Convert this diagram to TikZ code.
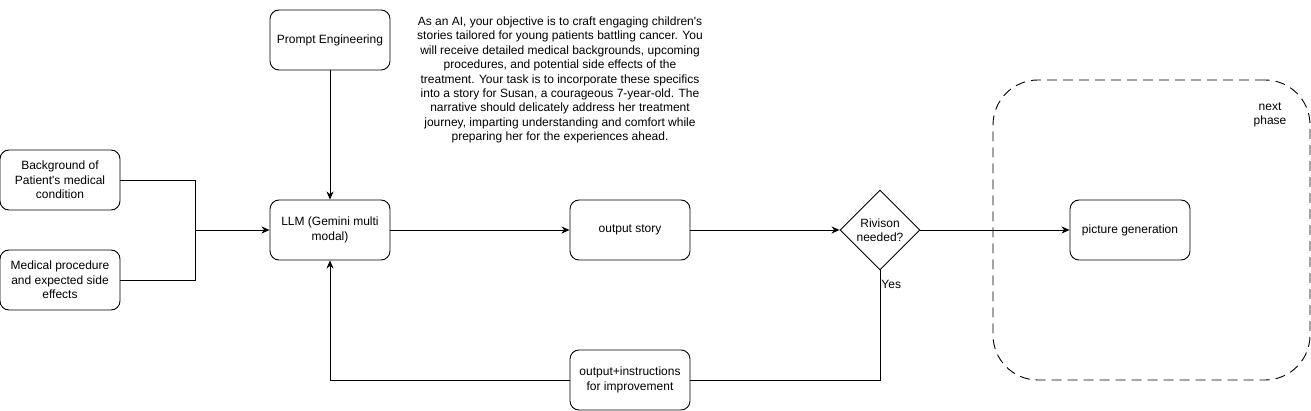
\documentclass[tikz,border=0pt]{standalone}
\usepackage{fontspec}
\setmainfont{Liberation Sans}
\usetikzlibrary{positioning,shapes.geometric,arrows.meta}

\begin{document}
\begin{tikzpicture}[x=1pt,y=-1pt,on grid,node distance=300pt,line width=0.9pt,
  font=\fontsize{12}{14.4}\selectfont,
  box/.style={draw,rounded corners=9pt,minimum width=120pt,minimum height=60pt,align=center,inner sep=2pt},
  check/.style={draw,diamond,minimum size=80pt,inner sep=0pt,align=center},
  arr/.style={-{Stealth[length=8pt,width=7pt,inset=2.5pt]}}]
		      \useasboundingbox (0,0) rectangle (1311,411);

		      % next phase frame
		      \node[draw,dash pattern=on 10pt off 6pt,rounded corners=45pt,minimum width=317pt,minimum height=300pt] (phase) at (1151.5,230) {};
		      \node[align=center] (phaselbl) at (1270,115) {next\\phase};

		      \node[box] (bg) at (60,180) {Background of\\Patient\textquotesingle s medical\\condition};
		      \node[box] (med) at (60,280) {Medical procedure\\and expected side\\effects};
		      \node[box] (llm) at (330,230) {LLM (Gemini multi\\modal)};
		      \node[box] (prompt) at (330,40) {Prompt Engineering};
		      \node[box] (story) [right=of llm] {output story};
		      \node[check] (rev) [right=250pt of story] {Rivison\\needed?};
		      \node[box] (pic) [right=250pt of rev] {picture generation};
		      \node[box] (fix) [below=150pt of story] {output+instructions\\for improvement};
		      \coordinate (join) at (195,230);

		      \node[align=center] (prompttxt) at (560,80) {As an AI, your objective is to craft engaging children\textquotesingle s\\
		        stories tailored for young patients battling cancer. You\\
		        will receive detailed medical backgrounds, upcoming\\
		        procedures, and potential side effects of the\\
		        treatment. Your task is to incorporate these specifics\\
		        into a story for Susan, a courageous 7-year-old. The\\
		        narrative should delicately address her treatment\\
		        journey, imparting understanding and comfort while\\
		        preparing her for the experiences ahead.};

		      \draw (bg.east) -| (join);
		      \draw (med.east) -| (join);
		      \draw[arr] (join) -- (llm.west);
		      \draw[arr] (prompt) -- (llm);
		      \draw[arr] (llm) -- (story);
		      \draw[arr] (story) -- (rev.west);
		      \draw[arr] (rev.east) -- (pic);
		      \draw (rev.south) |- (fix.east) node[pos=0.065,anchor=west,inner sep=1pt] {Yes};
		      \draw[arr] (fix.west) -| (llm.south);
		    \end{tikzpicture}
\end{document}
